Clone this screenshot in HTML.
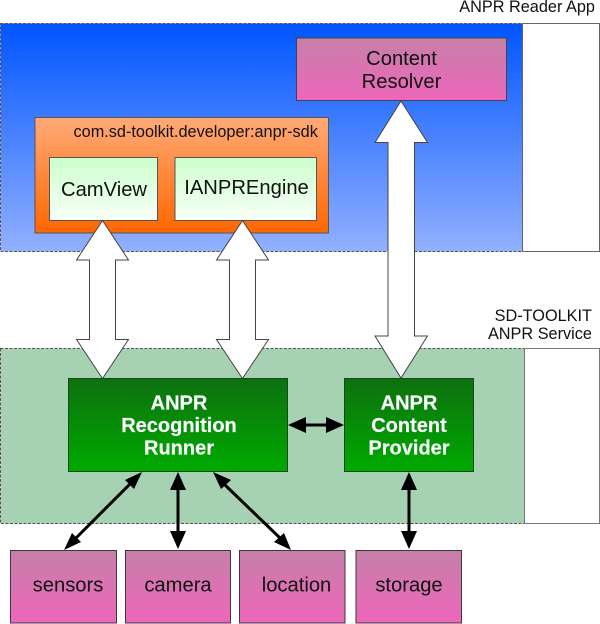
<!DOCTYPE html>
<html><head><meta charset="utf-8">
<style>html,body{margin:0;padding:0;background:#fff;width:600px;height:624px;overflow:hidden}svg{display:block}text{font-family:"Liberation Sans",sans-serif}</style>
</head><body>
<svg width="600" height="624" viewBox="0 0 600 624" xmlns="http://www.w3.org/2000/svg">
<defs>
<linearGradient id="b" x1="0" y1="0" x2="0" y2="1"><stop offset="0" stop-color="#0055ff"/><stop offset="1" stop-color="#92b0ff"/></linearGradient>
<linearGradient id="o" x1="0" y1="0" x2="0" y2="1"><stop offset="0" stop-color="#ffaa77"/><stop offset="1" stop-color="#ff6600"/></linearGradient>
<linearGradient id="l" x1="0" y1="0" x2="0" y2="1"><stop offset="0" stop-color="#ccffcc"/><stop offset="1" stop-color="#f8fff8"/></linearGradient>
<linearGradient id="p" x1="0" y1="0" x2="0" y2="1"><stop offset="0" stop-color="#c680a8"/><stop offset="1" stop-color="#ee66bb"/></linearGradient>
<linearGradient id="g" x1="0" y1="0" x2="0" y2="1"><stop offset="0" stop-color="#0d700f"/><stop offset="1" stop-color="#00aa00"/></linearGradient>
</defs>
<rect x="0.5" y="23.5" width="522" height="228" fill="url(#b)" stroke="#555" stroke-dasharray="3 1.5"/>
<rect x="522.5" y="23.5" width="77" height="228" fill="#fff" stroke="#666"/>
<rect x="0.5" y="348.5" width="524" height="175" fill="#a6d1b2" stroke="#555" stroke-dasharray="3 1.5"/>
<rect x="524.5" y="348.5" width="75" height="175" fill="#fff" stroke="#777"/>
<rect x="35" y="117.5" width="293.5" height="115.5" fill="url(#o)" stroke="#555"/>
<rect x="49.5" y="157.5" width="108" height="63" fill="url(#l)" stroke="#555"/>
<rect x="175" y="157.5" width="141.5" height="63" fill="url(#l)" stroke="#555"/>
<rect x="296.5" y="38" width="210" height="62.5" fill="url(#p)" stroke="#444"/>
<g fill="#fff" stroke="#444" stroke-width="1">
<path d="M102.5 220.5L128.5 260H115.5V339.5H128.5L102.5 378.5L76.5 339.5H89.5V260H76.5Z"/>
<path d="M242.5 220.5L268.5 260H255.5V339.5H268.5L242.5 378.5L216.5 339.5H229.5V260H216.5Z"/>
<path d="M401 101L427.5 142.5H414.5V336H427.5L401 378L375 336H388V142.5H375Z"/>
</g>
<rect x="68.5" y="378.5" width="219" height="93" fill="url(#g)" stroke="#134a17"/>
<rect x="344.5" y="378.5" width="129" height="93" fill="url(#g)" stroke="#134a17"/>
<g fill="url(#p)" stroke="#443344">
<rect x="10.5" y="550.5" width="106" height="72.5"/>
<rect x="125.5" y="550.5" width="105" height="72.5"/>
<rect x="239.5" y="550.5" width="105.5" height="72.5"/>
<rect x="356" y="550.5" width="105.5" height="72.5"/>
</g>
<g stroke="#000" stroke-width="3" fill="none">
<path d="M130 484L75 539"/><path d="M178 485V537"/><path d="M224 484L280 538"/><path d="M409 485V537"/><path d="M302 425H331"/>
</g>
<g fill="#000">
<path d="M142 472L134 489L125 480Z"/>
<path d="M64 550L72 533L81 542Z"/>
<path d="M178 472L186 490H170Z"/>
<path d="M178 549L170 531H186Z"/>
<path d="M213 472L231 480L221 489Z"/>
<path d="M291 550L274 542L284 533Z"/>
<path d="M409 472L417 490H401Z"/>
<path d="M409 549L401 531H417Z"/>
<path d="M288 425L306 417V433Z"/>
<path d="M344 425L326 417V433Z"/>
</g>
<g fill="#111" font-size="16.3">
<text x="595" y="12" text-anchor="end">ANPR Reader App</text>
<text x="592" y="321" text-anchor="end">SD-TOOLKIT</text>
<text x="592" y="339" text-anchor="end">ANPR Service</text>
<text x="73.5" y="137">com.sd-toolkit.developer:anpr-sdk</text>
</g>
<g fill="#111" font-size="20.2" text-anchor="middle">
<text x="104" y="196">CamView</text>
<text x="246.5" y="194">IANPREngine</text>
<text x="401.5" y="65">Content</text>
<text x="401.5" y="88">Resolver</text>
<text x="68" y="591.5">sensors</text>
<text x="178" y="591.5">camera</text>
<text x="296.5" y="591.5">location</text>
<text x="409" y="591.5">storage</text>
</g>
<g fill="#fff" font-size="20" font-weight="bold" text-anchor="middle" stroke="#dfe" stroke-width="0.2">
<text x="179" y="409.5">ANPR</text>
<text x="179" y="432">Recognition</text>
<text x="179" y="454.5">Runner</text>
<text x="409" y="409.5">ANPR</text>
<text x="409" y="432">Content</text>
<text x="409" y="454.5">Provider</text>
</g>
</svg>
</body></html>
